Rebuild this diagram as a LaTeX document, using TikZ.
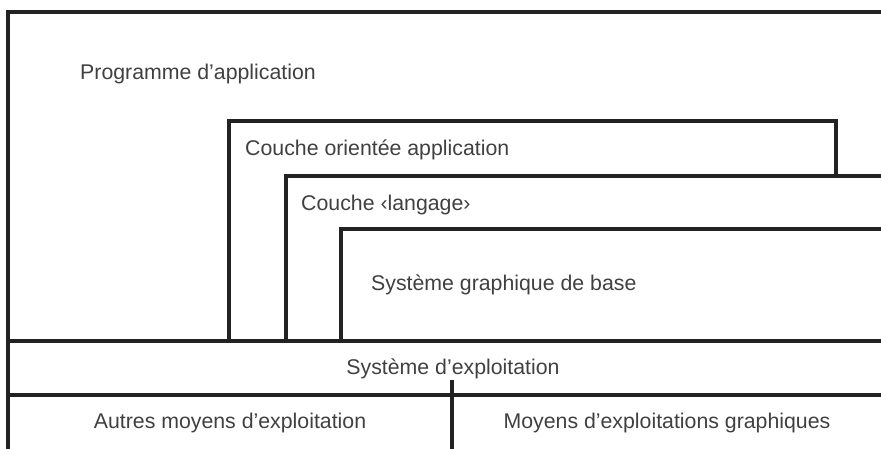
\documentclass[tikz,border=0pt]{standalone}
\usepackage{fontspec}
\setmainfont{Liberation Sans}
\definecolor{ink}{HTML}{222222}
\definecolor{txt}{HTML}{404040}
\begin{document}
\begin{tikzpicture}[x=1pt,y=-1pt,
  frame/.style={draw=ink,line width=3.4pt,line cap=rect,line join=miter},
  lbl/.style={inner sep=0pt,text=txt,font=\fontsize{21.3}{25}\selectfont}]
\useasboundingbox (0,0) rectangle (881,448);
% coordinates
\coordinate (tl) at (8,12);
\coordinate (tr) at (884,12);
\coordinate (bl) at (8,452);
\coordinate (osl) at (8,341);
\coordinate (osr) at (884,341);
\coordinate (bml) at (8,395);
\coordinate (bmr) at (884,395);
\coordinate (dt) at (452,382);
\coordinate (db) at (452,452);
% outer frame (open on the right and bottom)
\draw[frame] (bl) -- (tl) -- (tr);
\draw[frame] (osl) -- (osr);
\draw[frame] (bml) -- (bmr);
\draw[frame] (dt) -- (db);
% layered boxes (each hides the one behind)
\draw[frame] (229,341) -- (229,121) -- (836,121) -- (836,176);
\draw[frame] (286,341) -- (286,176) -- (884,176);
\draw[frame] (341,341) -- (341,229) -- (884,229);
% labels
\node[lbl,anchor=base west] (prog) at (80,79) {Programme d’application};
\node[lbl,anchor=base west] (coa) at (245,155) {Couche orientée application};
\node[lbl,anchor=base west] (cl) at (301,210) {Couche ‹langage›};
\node[lbl,anchor=base west] (sgb) at (371,290) {Système graphique de base};
\node[lbl,anchor=base] (os) at (453,374) {Système d’exploitation};
\node[lbl,anchor=base] (amo) at (230,428) {Autres moyens d’exploitation};
\node[lbl,anchor=base] (meg) at (667,428) {Moyens d’exploitations graphiques};
\end{tikzpicture}
\end{document}
